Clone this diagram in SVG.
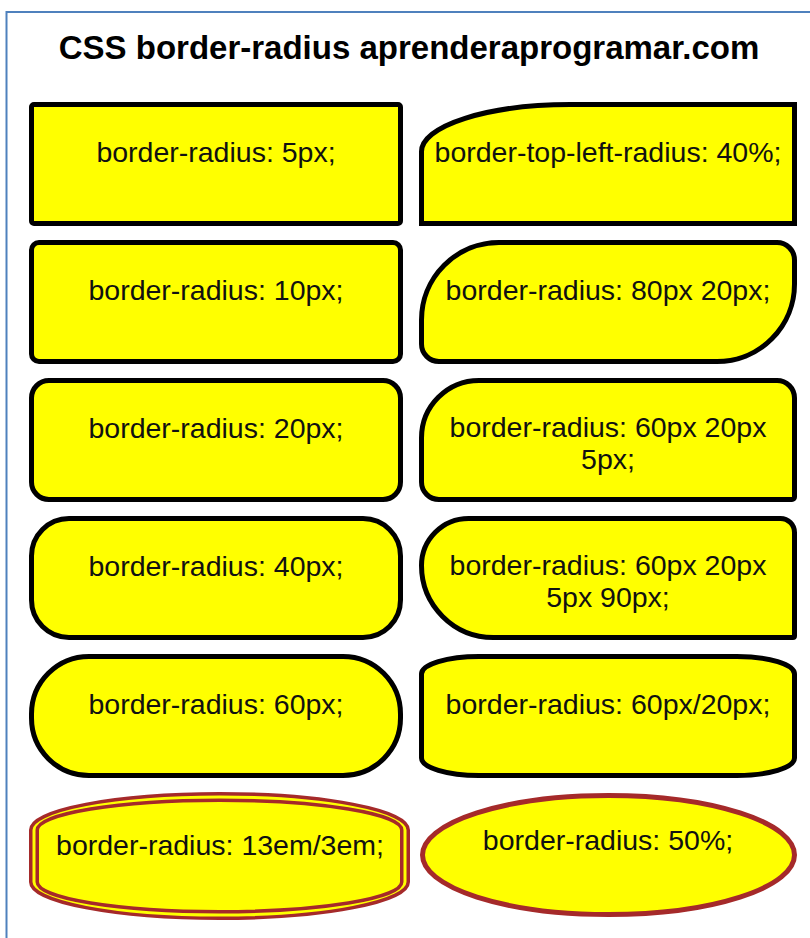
<svg xmlns="http://www.w3.org/2000/svg" width="810" height="938" viewBox="0 0 810 938">
<style>
.box{fill:#ffff00;stroke:#000;stroke-width:5}
.lbl{font-family:"Liberation Sans",Arial,sans-serif;font-size:28.5px;fill:#111;text-anchor:middle}
.title{font-family:"Liberation Sans",Arial,sans-serif;font-size:33px;font-weight:bold;fill:#000;text-anchor:middle}
.brown{fill:none;stroke:#a52a2a}
</style>
<rect x="0" y="0" width="810" height="938" fill="#fff"/>
<path d="M6.5,938 V12 H810" fill="none" stroke="#4f81bd" stroke-width="2"/>
<text class="title" x="409" y="59">CSS border-radius aprenderaprogramar.com</text>
<g id="connectors"></g>

<g id="n-r5px">
<rect class="box" x="31.5" y="104.5" width="369" height="119" rx="2.5"/>
<text class="lbl" x="216" y="162">border-radius: 5px;</text>
</g>
<g id="n-tl40">
<path class="box" d="M421.5,151.6 A148.7 47.1 0 0 1 570.2,104.5 H794.5 V223.5 H421.5 Z"/>
<text class="lbl" x="608" y="162">border-top-left-radius: 40%;</text>
</g>

<g id="n-r10px">
<rect class="box" x="31.5" y="242.5" width="369" height="119" rx="7.5"/>
<text class="lbl" x="216" y="300">border-radius: 10px;</text>
</g>
<g id="n-r80-20">
<path class="box" d="M499,242.5 H777 A17.5 17.5 0 0 1 794.5,260 V284 A77.5 77.5 0 0 1 717,361.5 H439 A17.5 17.5 0 0 1 421.5,344 V320 A77.5 77.5 0 0 1 499,242.5 Z"/>
<text class="lbl" x="608" y="300">border-radius: 80px 20px;</text>
</g>

<g id="n-r20px">
<rect class="box" x="31.5" y="380.5" width="369" height="119" rx="17.5"/>
<text class="lbl" x="216" y="438">border-radius: 20px;</text>
</g>
<g id="n-r60-20-5">
<path class="box" d="M479,380.5 H777 A17.5 17.5 0 0 1 794.5,398 V497 A2.5 2.5 0 0 1 792,499.5 H439 A17.5 17.5 0 0 1 421.5,482 V438 A57.5 57.5 0 0 1 479,380.5 Z"/>
<text class="lbl" x="608" y="437">border-radius: 60px 20px</text>
<text class="lbl" x="608" y="469">5px;</text>
</g>

<g id="n-r40px">
<rect class="box" x="31.5" y="518.5" width="369" height="119" rx="37.5"/>
<text class="lbl" x="216" y="576">border-radius: 40px;</text>
</g>
<g id="n-r60-20-5-90">
<path class="box" d="M468.6,518.5 H780.5 A14 14 0 0 1 794.5,532.5 V635.9 A1.6 1.6 0 0 1 792.9,637.5 H493.4 A71.9 71.9 0 0 1 421.5,565.6 A47.1 47.1 0 0 1 468.6,518.5 Z"/>
<text class="lbl" x="608" y="575">border-radius: 60px 20px</text>
<text class="lbl" x="608" y="607">5px 90px;</text>
</g>

<g id="n-r60px">
<rect class="box" x="31.5" y="656.5" width="369" height="119" rx="57.5"/>
<text class="lbl" x="216" y="714">border-radius: 60px;</text>
</g>
<g id="n-r60-20slash">
<path class="box" d="M479,656.5 H737 A57.5 17.5 0 0 1 794.5,674 V758 A57.5 17.5 0 0 1 737,775.5 H479 A57.5 17.5 0 0 1 421.5,758 V674 A57.5 17.5 0 0 1 479,656.5 Z"/>
<text class="lbl" x="608" y="714">border-radius: 60px/20px;</text>
</g>

<g id="n-r13em">
<path d="M30.75,830 A188.75 36.25 0 0 1 219.5,793.75 A188.75 36.25 0 0 1 408.25,830 V882 A188.75 36.25 0 0 1 219.5,918.25 A188.75 36.25 0 0 1 30.75,882 Z" fill="#ffff00" stroke="#a52a2a" stroke-width="3.5"/>
<path class="brown" stroke-width="3.5" d="M37.25,830 A182.25 29.75 0 0 1 219.5,800.25 A182.25 29.75 0 0 1 401.75,830 V882 A182.25 29.75 0 0 1 219.5,911.75 A182.25 29.75 0 0 1 37.25,882 Z"/>
<text class="lbl" x="220" y="855">border-radius: 13em/3em;</text>
</g>
<g id="n-r50pct">
<ellipse cx="608.5" cy="855" rx="186" ry="59.5" fill="#ffff00" stroke="#a52a2a" stroke-width="5"/>
<text class="lbl" x="608" y="850">border-radius: 50%;</text>
</g>
</svg>
